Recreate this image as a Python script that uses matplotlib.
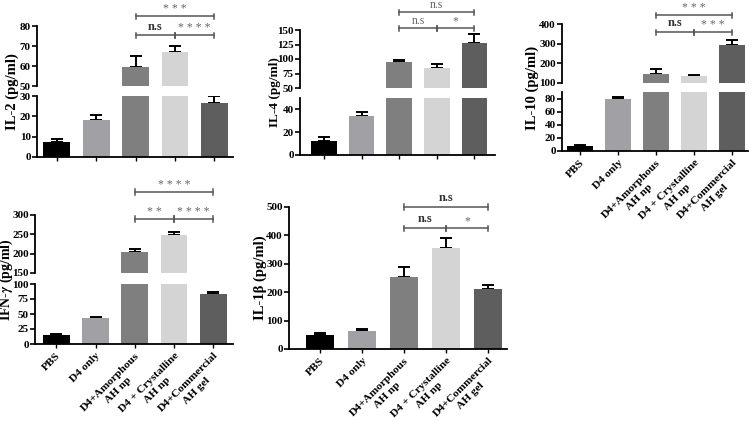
import matplotlib
matplotlib.use("Agg")
import matplotlib.pyplot as plt
from matplotlib.transforms import blended_transform_factory

plt.rcParams['font.family'] = ['Liberation Serif', 'DejaVu Serif']
plt.rcParams['font.weight'] = 'bold'
plt.rcParams['mathtext.fontset'] = 'stix'

# figure size in pixels
W, H = 753, 421

# groups and bar colours
groups = ['PBS', 'D4 only', 'D4+Amorphous\nAH np', 'D4 + Crystalline\nAH np', 'D4+Commercial\nAH gel']
bar_colors = ['#000000', '#a1a1a5', '#7f7f7f', '#d4d4d4', '#5e5e5e']

# cytokine values (pg/ml), mean and SEM
il2_mean = [7.5, 18.2, 59.5, 67.0, 26.7]
il2_err = [1.5, 2.5, 5.5, 3.0, 3.5]

il4_mean = [12, 34, 94, 84, 128]
il4_err = [4, 4, 4, 8, 15]

il10_mean = [7, 80, 148, 138, 295]
il10_err = [1.5, 2, 25, 4, 22]

ifng_mean = [15, 43, 205, 247, 83]
ifng_err = [2.5, 2.5, 8, 8, 4]

il1b_mean = [48, 62, 252, 355, 210]
il1b_err = [7, 10, 35, 35, 17]

fig = plt.figure(figsize=(W / 100, H / 100), dpi=100)

SIG_COLOR = '#555555'


def add_panel(x0, x1, segs, xlim, means, errs, ylabel, label_x, show_xlabels, label_size=10.5):
    axes = []
    for i, (ytop, ybot, ymin, ymax, yticks) in enumerate(segs):
        ax = fig.add_axes([x0 / W, 1 - ybot / H, (x1 - x0) / W, (ybot - ytop) / H])
        ax.bar(range(5), means, width=0.68, color=bar_colors, zorder=2)
        ax.errorbar(range(5), means, yerr=[[0] * 5, errs], fmt='none',
                    ecolor='black', elinewidth=1.4, capsize=4, capthick=1.4, zorder=1)
        ax.set_xlim(*xlim)
        ax.set_ylim(ymin, ymax)
        ax.set_yticks(yticks)
        ax.tick_params(axis='y', labelsize=8, width=1.2, length=3.5, pad=1)
        for s in ['top', 'right']:
            ax.spines[s].set_visible(False)
        ax.spines['left'].set_linewidth(1.3)
        last = i == len(segs) - 1
        if last:
            ax.spines['bottom'].set_linewidth(1.3)
            ax.set_xticks(range(5))
            ax.tick_params(axis='x', width=1.0, length=3, pad=2)
            if show_xlabels:
                ax.set_xticklabels(groups, rotation=45, ha='right', va='top',
                                   rotation_mode='anchor', fontsize=8.2,
                                   multialignment='center', linespacing=1.35)
            else:
                ax.set_xticklabels([])
        else:
            ax.spines['bottom'].set_visible(False)
            ax.set_xticks([])
        axes.append(ax)
    ytop_all = segs[0][0]
    ybot_all = segs[-1][1]
    fig.text(label_x / W, 1 - (ytop_all + ybot_all) / 2 / H, ylabel, rotation=90,
             ha='center', va='center', fontsize=label_size, fontweight='bold')
    return axes


def bracket(ax, xa, xb, y_px, text, bold):
    tr = blended_transform_factory(ax.transData, fig.transFigure)
    y = 1 - y_px / H
    c = 2.5 / H
    ax.plot([xa, xb], [y, y], color=SIG_COLOR, lw=1.1, transform=tr, clip_on=False)
    for xx in (xa, xb):
        ax.plot([xx, xx], [y - c, y + c], color=SIG_COLOR, lw=1.1, transform=tr, clip_on=False)
    if bold:
        ax.text((xa + xb) / 2, y + 2.5 / H, text, transform=tr, ha='center', va='bottom',
                fontsize=9, color='#333333', fontweight='bold')
    else:
        ax.text((xa + xb) / 2, y + 1.0 / H, text, transform=tr, ha='center', va='bottom',
                fontsize=8.5, color='#666666', fontweight='normal')


def stars(n):
    return ' '.join(['*'] * n)


# IL-2
ax = add_panel(37, 233, [(26, 86, 50, 80, [50, 60, 70, 80]), (96, 157, 0, 30, [0, 10, 20, 30])],
               (-0.5, 4.47), il2_mean, il2_err, 'IL-2 (pg/ml)', 12, False)
bracket(ax[0], 2, 4, 16, stars(3), False)
bracket(ax[0], 2, 3, 35, 'n.s', True)
bracket(ax[0], 3, 4, 35, stars(4), False)

# IL-4
ax = add_panel(300, 495, [(30, 88, 50, 150, [50, 75, 100, 125, 150]), (98, 155, 0, 50, [0, 20, 40])],
               (-0.64, 4.55), il4_mean, il4_err, 'IL-4 (pg/ml)', 275, False, 9.5)
bracket(ax[0], 2, 4, 12, 'n.s', False)
bracket(ax[0], 2, 3, 28, 'n.s', False)
bracket(ax[0], 3, 4, 28, '*', False)

# IL-10
ax = add_panel(562, 748, [(24, 83, 100, 400, [100, 200, 300, 400]), (92, 151, 0, 90, [0, 20, 40, 60, 80])],
               (-0.47, 4.42), il10_mean, il10_err, 'IL-10 (pg/ml)', 532, True)
bracket(ax[0], 2, 4, 15, stars(3), False)
bracket(ax[0], 2, 3, 32, 'n.s', True)
bracket(ax[0], 3, 4, 32, stars(3), False)

# IFN-gamma
ax = add_panel(35, 233, [(215, 273, 150, 300, [150, 200, 250, 300]), (284, 344, 0, 100, [0, 25, 50, 75, 100])],
               (-0.54, 4.5), ifng_mean, ifng_err, r'IFN-$\gamma$ (pg/ml)', 6, True, 10)
bracket(ax[0], 2, 4, 192, stars(4), False)
bracket(ax[0], 2, 3, 219, stars(2), False)
bracket(ax[0], 3, 4, 219, stars(4), False)

# IL-1beta
ax = add_panel(289, 507, [(207, 349, 0, 500, [0, 100, 200, 300, 400, 500])],
               (-0.74, 4.45), il1b_mean, il1b_err, 'IL-1β (pg/ml)', 260, True)
bracket(ax[0], 2, 4, 207, 'n.s', True)
bracket(ax[0], 2, 3, 228, 'n.s', True)
bracket(ax[0], 3, 4, 228, '*', False)

fig.savefig('out.png', dpi=100)
